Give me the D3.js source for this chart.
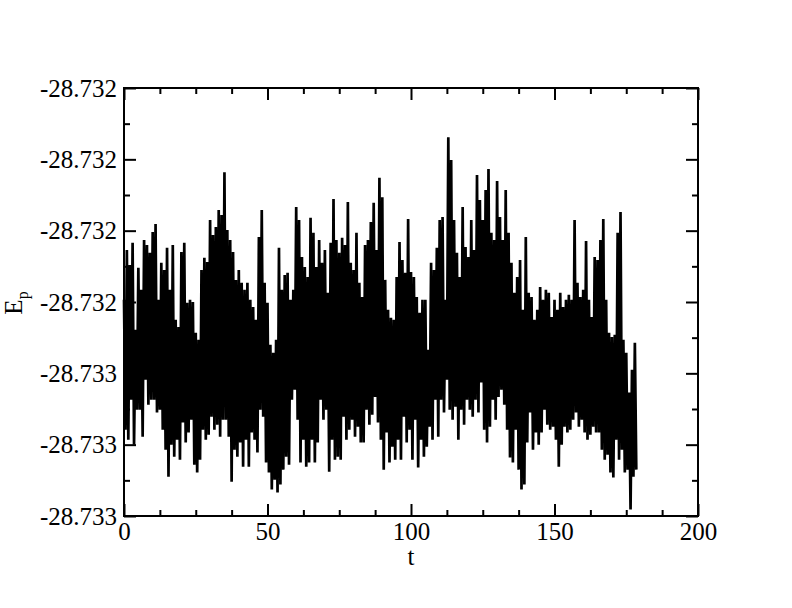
<!DOCTYPE html>
<html><head><meta charset="utf-8">
<script src="https://cdn.jsdelivr.net/npm/d3@7"></script>
<style>body{margin:0;background:#fff} svg{display:block}</style>
</head><body><svg id="c" width="792" height="608"></svg>
<script>
// sampling interval of the time series
const dt = 0.5;
// potential energy E_p(t)
const ep = [
-28.732394,-28.732758,-28.732254,-28.732786,-28.732296,-28.732674,-28.732234,-28.732800,-28.732478,-28.732702,
-28.732304,-28.732702,-28.732366,-28.732778,-28.732226,-28.732618,-28.732240,-28.732688,-28.732262,-28.732674,
-28.732204,-28.732674,-28.732181,-28.732710,-28.732394,-28.732702,-28.732290,-28.732758,-28.732310,-28.732814,
-28.732248,-28.732890,-28.732366,-28.732800,-28.732240,-28.732834,-28.732450,-28.732786,-28.732470,-28.732842,
-28.732260,-28.732738,-28.732234,-28.732794,-28.732402,-28.732766,-28.732394,-28.732730,-28.732400,-28.732856,
-28.732486,-28.732878,-28.732506,-28.732842,-28.732310,-28.732758,-28.732276,-28.732786,-28.732288,-28.732772,
-28.732170,-28.732722,-28.732212,-28.732758,-28.732190,-28.732744,-28.732142,-28.732778,-28.732156,-28.732730,
-28.732036,-28.732730,-28.732198,-28.732778,-28.732226,-28.732904,-28.732260,-28.732814,-28.732338,-28.732834,
-28.732310,-28.732794,-28.732346,-28.732862,-28.732366,-28.732786,-28.732346,-28.732862,-28.732394,-28.732766,
-28.732414,-28.732786,-28.732450,-28.732822,-28.732218,-28.732702,-28.732142,-28.732722,-28.732346,-28.732850,
-28.732402,-28.732878,-28.732520,-28.732926,-28.732542,-28.732898,-28.732506,-28.732934,-28.732248,-28.732912,
-28.732366,-28.732870,-28.732324,-28.732834,-28.732318,-28.732856,-28.732394,-28.732674,-28.732366,-28.732646,
-28.732134,-28.732730,-28.732170,-28.732850,-28.732274,-28.732786,-28.732302,-28.732862,-28.732330,-28.732850,
-28.732164,-28.732786,-28.732206,-28.732850,-28.732302,-28.732794,-28.732226,-28.732674,-28.732290,-28.732730,
-28.732254,-28.732702,-28.732374,-28.732876,-28.732234,-28.732786,-28.732111,-28.732842,-28.732226,-28.732834,
-28.732262,-28.732842,-28.732220,-28.732722,-28.732240,-28.732786,-28.732120,-28.732758,-28.732290,-28.732730,
-28.732310,-28.732778,-28.732206,-28.732750,-28.732346,-28.732794,-28.732386,-28.732794,-28.732240,-28.732702,
-28.732226,-28.732744,-28.732176,-28.732716,-28.732122,-28.732666,-28.732254,-28.732738,-28.732052,-28.732786,
-28.732106,-28.732870,-28.732338,-28.732766,-28.732422,-28.732850,-28.732444,-28.732806,-28.732450,-28.732842,
-28.732330,-28.732786,-28.732232,-28.732842,-28.732282,-28.732722,-28.732318,-28.732794,-28.732167,-28.732758,
-28.732316,-28.732842,-28.732330,-28.732730,-28.732386,-28.732864,-28.732430,-28.732786,-28.732394,-28.732834,
-28.732394,-28.732806,-28.732534,-28.732750,-28.732290,-28.732786,-28.732310,-28.732674,-28.732248,-28.732778,
-28.732170,-28.732674,-28.732162,-28.732710,-28.732394,-28.732618,-28.731938,-28.732702,-28.732002,-28.732730,
-28.732170,-28.732694,-28.732262,-28.732786,-28.732330,-28.732702,-28.732134,-28.732744,-28.732246,-28.732674,
-28.732274,-28.732702,-28.732170,-28.732722,-28.732254,-28.732674,-28.732044,-28.732710,-28.732114,-28.732626,
-28.732170,-28.732758,-28.732086,-28.732794,-28.732027,-28.732750,-28.732206,-28.732674,-28.732226,-28.732730,
-28.732061,-28.732666,-28.732162,-28.732646,-28.732226,-28.732688,-28.732086,-28.732758,-28.732206,-28.732836,
-28.732290,-28.732850,-28.732374,-28.732758,-28.732330,-28.732870,-28.732282,-28.732926,-28.732422,-28.732912,
-28.732218,-28.732794,-28.732374,-28.732710,-28.732386,-28.732814,-28.732450,-28.732766,-28.732422,-28.732800,
-28.732358,-28.732766,-28.732394,-28.732702,-28.732366,-28.732744,-28.732374,-28.732758,-28.732442,-28.732750,
-28.732394,-28.732786,-28.732422,-28.732862,-28.732374,-28.732800,-28.732414,-28.732750,-28.732394,-28.732766,
-28.732380,-28.732758,-28.732394,-28.732730,-28.732170,-28.732710,-28.732346,-28.732750,-28.732386,-28.732730,
-28.732366,-28.732766,-28.732229,-28.732786,-28.732394,-28.732772,-28.732442,-28.732750,-28.732274,-28.732766,
-28.732282,-28.732766,-28.732226,-28.732814,-28.732167,-28.732842,-28.732394,-28.732828,-28.732486,-28.732878,
-28.732498,-28.732892,-28.732492,-28.732786,-28.732206,-28.732842,-28.732148,-28.732814,-28.732506,-28.732878,
-28.732542,-28.732870,-28.732654,-28.732982,-28.732590,-28.732890,-28.732514,-28.732870
];
const xTicks = [0, 50, 100, 150, 200];
const xTickLabels = ["0", "50", "100", "150", "200"];
const xMinorTicks = [12.5, 25, 37.5, 62.5, 75, 87.5, 112.5, 125, 137.5, 162.5, 175, 187.5];
const yTicks = [-28.7330, -28.7328, -28.7326, -28.7324, -28.7322, -28.7320, -28.7318];
const yTickLabels = ["-28.733", "-28.733", "-28.733", "-28.732", "-28.732", "-28.732", "-28.732"];
const yMinorTicks = [-28.7329, -28.7327, -28.7325, -28.7323, -28.7321, -28.7319];
const xTitle = "t";

const L = 124, R = 698, T = 88, B = 516;
const svg = d3.select("#c");
const font = "'Liberation Serif','Times New Roman',Times,serif";

const x = d3.scaleLinear().domain([0, 200]).range([L, R]);
const y = d3.scaleLinear().domain([-28.7330, -28.7318]).range([B, T]);

const data = ep.map((v, i) => ({ t: i * dt, v }));

svg.append("rect").attr("width", 792).attr("height", 608).attr("fill", "#fff");

svg.append("path")
  .datum(data)
  .attr("fill", "none")
  .attr("stroke", "#000")
  .attr("stroke-width", 2.7)
  .attr("stroke-linejoin", "bevel")
  .attr("d", d3.line().x(d => x(d.t)).y(d => y(d.v)));

function styleAxis(g) {
  g.select(".domain").remove();
  g.selectAll(".tick line").attr("stroke", "#000").attr("stroke-width", 2);
  g.selectAll(".tick text").attr("font-family", font).attr("font-size", 25).attr("fill", "#000");
}

// bottom
svg.append("g").attr("transform", `translate(0,${B})`)
  .call(d3.axisBottom(x).tickValues(xTicks).tickSizeInner(-12).tickSizeOuter(0).tickPadding(6)
    .tickFormat((d, i) => xTickLabels[i]))
  .call(styleAxis);
svg.append("g").attr("transform", `translate(0,${B})`)
  .call(d3.axisBottom(x).tickValues(xMinorTicks).tickSizeInner(-6).tickSizeOuter(0).tickFormat(""))
  .call(styleAxis);
// top
svg.append("g").attr("transform", `translate(0,${T})`)
  .call(d3.axisTop(x).tickValues(xTicks).tickSizeInner(-12).tickSizeOuter(0).tickFormat(""))
  .call(styleAxis);
svg.append("g").attr("transform", `translate(0,${T})`)
  .call(d3.axisTop(x).tickValues(xMinorTicks).tickSizeInner(-6).tickSizeOuter(0).tickFormat(""))
  .call(styleAxis);
// left
svg.append("g").attr("transform", `translate(${L},0)`)
  .call(d3.axisLeft(y).tickValues(yTicks).tickSizeInner(-12).tickSizeOuter(0).tickPadding(7)
    .tickFormat((d, i) => yTickLabels[i]))
  .call(styleAxis);
svg.append("g").attr("transform", `translate(${L},0)`)
  .call(d3.axisLeft(y).tickValues(yMinorTicks).tickSizeInner(-6).tickSizeOuter(0).tickFormat(""))
  .call(styleAxis);
// right
svg.append("g").attr("transform", `translate(${R},0)`)
  .call(d3.axisRight(y).tickValues(yTicks).tickSizeInner(-12).tickSizeOuter(0).tickFormat(""))
  .call(styleAxis);
svg.append("g").attr("transform", `translate(${R},0)`)
  .call(d3.axisRight(y).tickValues(yMinorTicks).tickSizeInner(-6).tickSizeOuter(0).tickFormat(""))
  .call(styleAxis);

// frame
svg.append("rect").attr("x", L).attr("y", T).attr("width", R - L).attr("height", B - T)
  .attr("fill", "none").attr("stroke", "#000").attr("stroke-width", 2);

// axis titles
svg.append("text").attr("x", (L + R) / 2).attr("y", 565).attr("text-anchor", "middle")
  .attr("font-family", font).attr("font-size", 25).text(xTitle);

const yt = svg.append("text").attr("transform", "translate(22,303) rotate(-90)")
  .attr("text-anchor", "middle").attr("font-family", font).attr("font-size", 25);
yt.append("tspan").text("E");
yt.append("tspan").attr("font-size", 16).attr("dy", 6).text("p");
</script>
</body></html>
